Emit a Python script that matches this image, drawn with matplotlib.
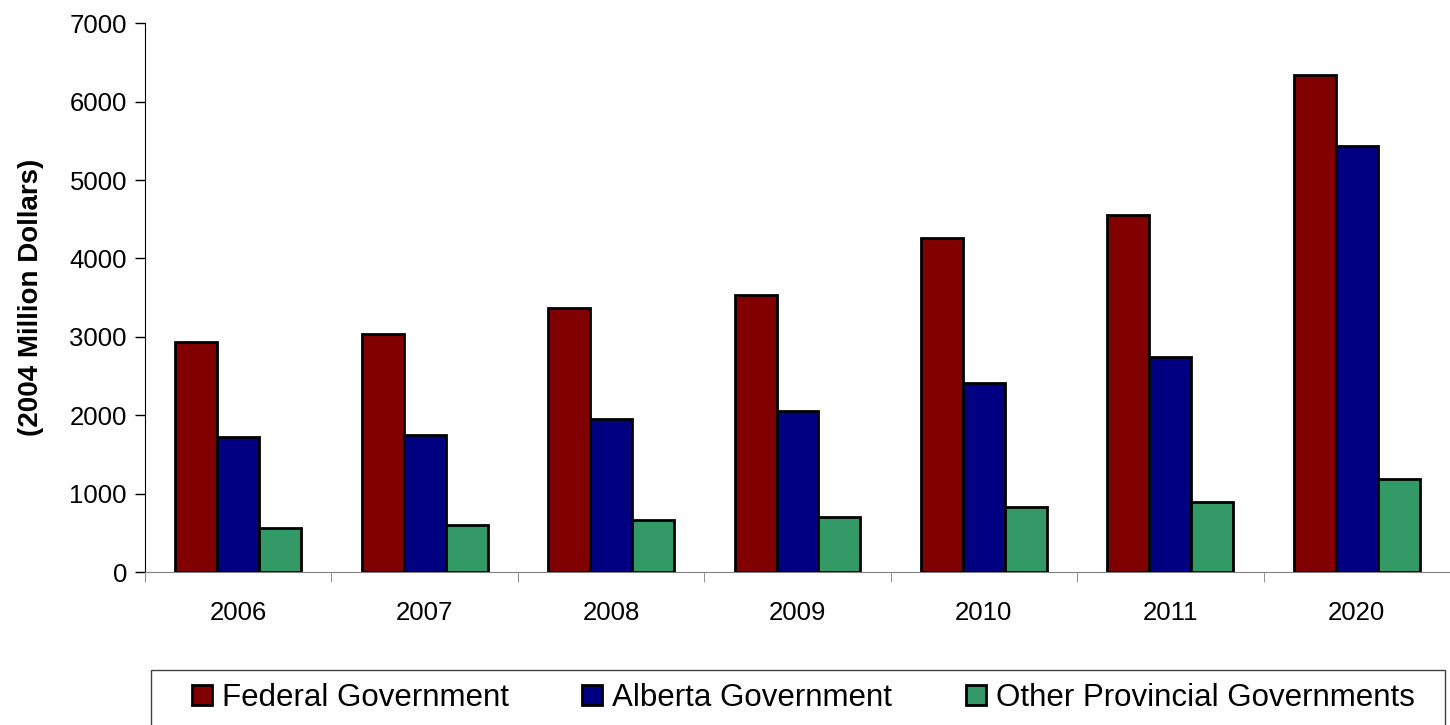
import numpy as np
import matplotlib
matplotlib.use('Agg')
import matplotlib.pyplot as plt
from matplotlib.patches import Rectangle

# data
years = ['2006', '2007', '2008', '2009', '2010', '2011', '2020']
federal = [2930, 3035, 3366, 3532, 4259, 4552, 6337]
alberta = [1721, 1747, 1951, 2053, 2410, 2741, 5432]
other = [561, 599, 663, 701, 829, 893, 1186]
series_names = ['Federal Government', 'Alberta Government', 'Other Provincial Governments']
colors = ['#800000', '#000080', '#339966']

plt.rcParams['font.family'] = ['Liberation Sans', 'DejaVu Sans']

fig = plt.figure(figsize=(14.5, 7.25), dpi=100)
ax = fig.add_axes([0.1, 0.211, 0.9, 0.757])

x = np.arange(len(years))
width = 0.225
for i, (vals, name, c) in enumerate(zip([federal, alberta, other], series_names, colors)):
    ax.bar(x + (i - 1) * width, vals, width, color=c, edgecolor='black',
           linewidth=2, label=name, zorder=3)

ax.set_xlim(-0.5, len(years) - 0.5)
ax.set_ylim(0, 7000)
ax.set_yticks(range(0, 7001, 1000))
ax.tick_params(axis='y', labelsize=18.5, length=7, width=1, color='black', pad=6)

ax.set_xticks(x)
ax.set_xticklabels(years, fontsize=18.5)
ax.tick_params(axis='x', which='major', length=0, pad=21)
ax.set_xticks(np.arange(-0.5, len(years), 1.0), minor=True)
ax.tick_params(axis='x', which='minor', length=7, color='#808080')

ax.set_ylabel('(2004 Million Dollars)', fontsize=20, fontweight='bold', labelpad=18)

ax.spines['top'].set_visible(False)
ax.spines['right'].set_visible(False)
ax.spines['bottom'].set_color('#808080')
ax.spines['left'].set_color('black')

# legend box (frame drawn separately, runs off the bottom edge)
fig.patches.append(Rectangle((151 / 1450, -0.05), (1445 - 151) / 1450, 0.05 + 1 - 670 / 725,
                             transform=fig.transFigure, facecolor='white',
                             edgecolor='#404040', linewidth=1))
leg = fig.legend(loc='center left', bbox_to_anchor=(192 / 1450, 1 - 698 / 725),
                 ncol=3, fontsize=22.5, frameon=False,
                 handlelength=0.64, handleheight=0.64, handletextpad=0.32,
                 borderpad=0, borderaxespad=0, columnspacing=2.35)

fig.savefig('out.png', dpi=100)
